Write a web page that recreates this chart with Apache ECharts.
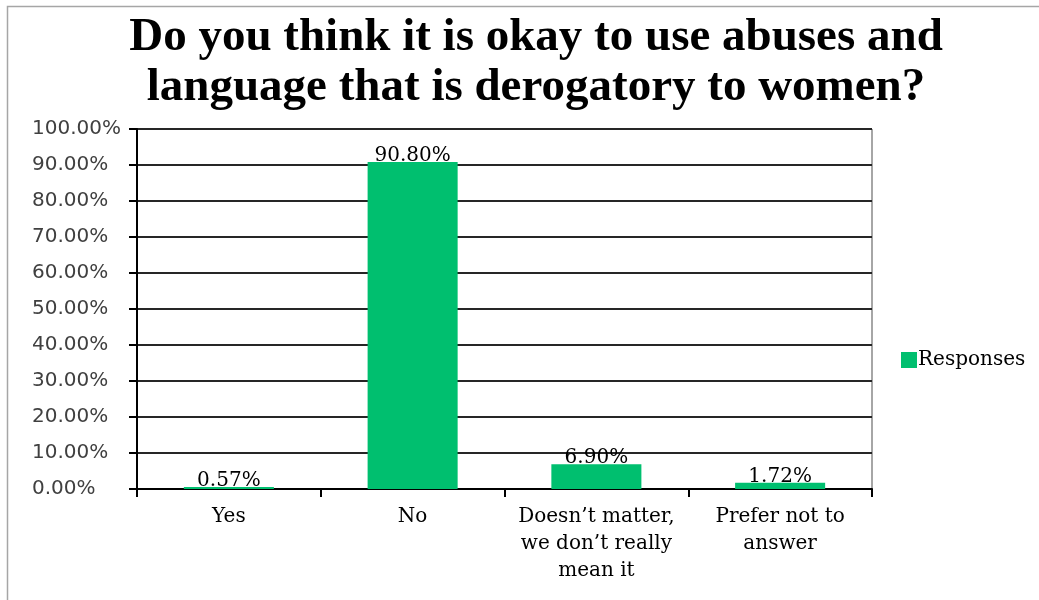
<!DOCTYPE html>
<html>
<head>
<meta charset="utf-8">
<style>
  html, body { margin: 0; padding: 0; background: #ffffff; }
  #chart { width: 1039px; height: 600px; }
</style>
<script src="https://cdn.jsdelivr.net/npm/echarts@6/dist/echarts.min.js"></script>
</head>
<body>
<div id="chart"></div>
<script>
// Survey answers and their share of responses (percent)
const categories = ['Yes', 'No', 'Doesn\u2019t matter,\nwe don\u2019t really\nmean it', 'Prefer not to\nanswer'];
const responses = [0.57, 90.80, 6.90, 1.72];
const seriesName = 'Responses';
const titleText = 'Do you think it is okay to use abuses and\nlanguage that is derogatory to women?';

const serif = 'DejaVu Serif';
const chart = echarts.init(document.getElementById('chart'), null, { renderer: 'canvas' });

chart.setOption({
  backgroundColor: '#ffffff',
  animation: false,
  title: {
    text: titleText,
    left: 531,
    textAlign: 'center',
    top: 8,
    textStyle: {
      fontFamily: 'Liberation Serif',
      fontWeight: 'bold',
      fontSize: 47,
      lineHeight: 50,
      color: '#000000'
    }
  },
  legend: {
    data: [seriesName],
    left: 896,
    top: 345,
    itemWidth: 16,
    itemHeight: 16,
    itemGap: 4,
    icon: 'rect',
    textStyle: { fontFamily: serif, fontSize: 20, color: '#000000', padding: [0, 0, 0, -4] }
  },
  graphic: [{
    type: 'rect',
    shape: { x: 7.5, y: 6.5, width: 1100, height: 700 },
    style: { fill: 'none', stroke: '#a6a6a6', lineWidth: 1.5 },
    silent: true
  }, {
    type: 'line',
    shape: { x1: 872, y1: 129, x2: 872, y2: 489 },
    style: { stroke: '#a6a6a6', lineWidth: 2 },
    silent: true
  }],
  grid: { left: 137, right: 167, top: 129, bottom: 111, containLabel: false },
  xAxis: {
    type: 'category',
    data: categories,
    axisLine: { show: true, lineStyle: { color: '#000000', width: 2 } },
    axisTick: { show: true, alignWithLabel: false, length: 8, lineStyle: { color: '#000000', width: 2 } },
    axisLabel: {
      interval: 0,
      margin: 14,
      fontFamily: serif,
      fontSize: 20,
      lineHeight: 27,
      color: '#000000'
    }
  },
  yAxis: {
    type: 'value',
    min: 0,
    max: 100,
    interval: 10,
    axisLine: { show: true, lineStyle: { color: '#000000', width: 2 } },
    axisTick: { show: true, inside: false, length: 8, lineStyle: { color: '#000000', width: 2 } },
    splitLine: { show: true, lineStyle: { color: '#262626', width: 2 } },
    axisLabel: {
      margin: 105,
      align: 'left',
      fontFamily: 'DejaVu Sans',
      fontSize: 20,
      color: '#404040',
      formatter: v => v.toFixed(2) + '%'
    }
  },
  series: [{
    name: seriesName,
    type: 'bar',
    data: responses,
    barWidth: '49%',
    itemStyle: { color: '#00bf6f' },
    label: {
      show: true,
      position: 'top',
      distance: -4,
      fontFamily: serif,
      fontSize: 20,
      color: '#000000',
      formatter: p => p.value.toFixed(2) + '%'
    }
  }]
});
</script>
</body>
</html>
